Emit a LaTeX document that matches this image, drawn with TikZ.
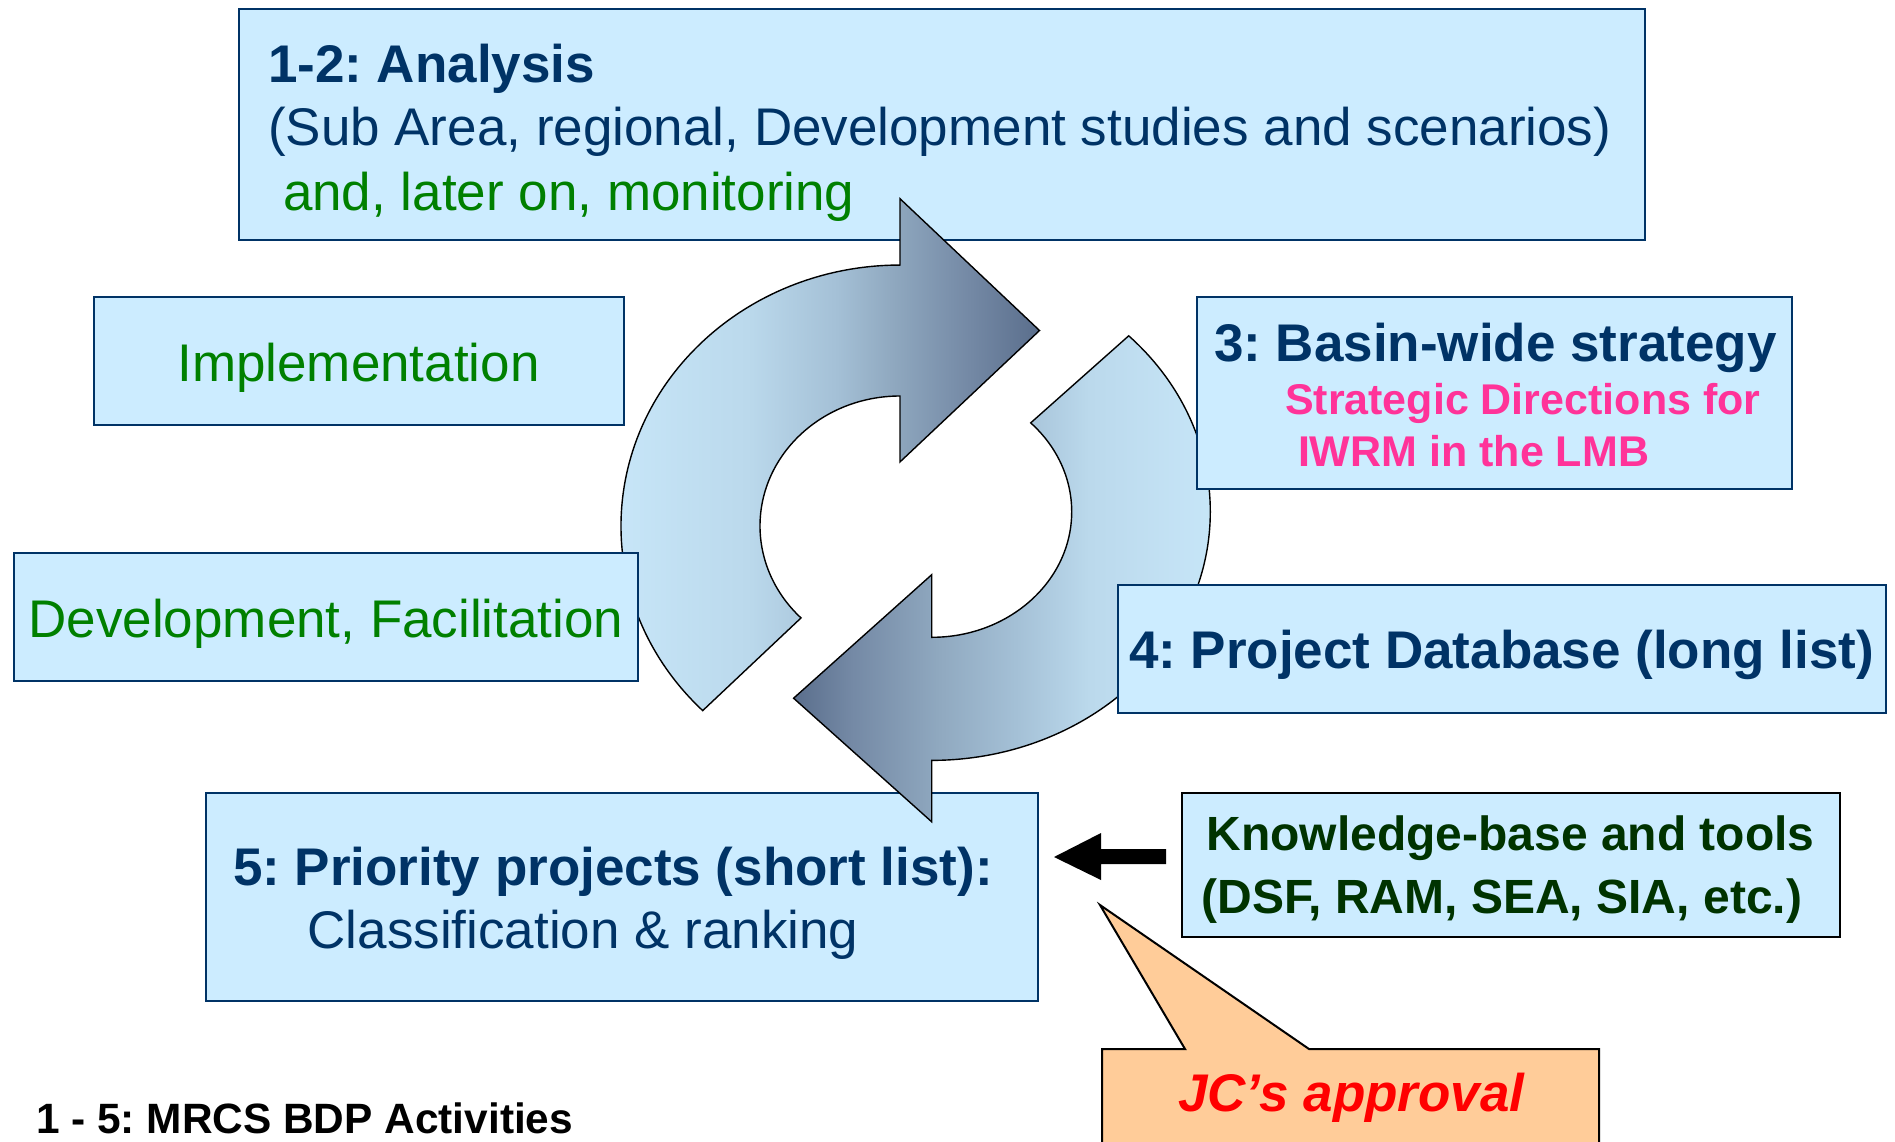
\documentclass[tikz,border=0pt]{standalone}
\usepackage{fontspec}
\setmainfont{Liberation Sans}
\frenchspacing
\definecolor{boxfill}{HTML}{CCECFF}
\definecolor{boxline}{HTML}{003366}
\definecolor{navy}{HTML}{003366}
\definecolor{grn}{HTML}{008000}
\definecolor{pink}{HTML}{FF3399}
\definecolor{dgrn}{HTML}{003300}
\definecolor{callfill}{HTML}{FFCC99}
\definecolor{ca}{HTML}{C9E8FA}
\definecolor{cb}{HTML}{BBD9EC}
\definecolor{cc}{HTML}{A4C0D6}
\definecolor{cd}{HTML}{90A9C0}
\definecolor{ce}{HTML}{7489A5}
\definecolor{cf}{HTML}{5A6E8C}
\pgfdeclarehorizontalshading{upshade}{100bp}{color(0bp)=(ca); color(25bp)=(ca); color(42.3bp)=(cb); color(52.3bp)=(cc); color(58.3bp)=(cd); color(67.1bp)=(ce); color(75bp)=(cf); color(100bp)=(cf)}
\pgfdeclarehorizontalshading{lowshade}{100bp}{color(0bp)=(cf); color(25bp)=(cf); color(31.5bp)=(ce); color(41.5bp)=(cd); color(50bp)=(cc); color(58.3bp)=(cb); color(75bp)=(ca); color(100bp)=(ca)}
\begin{document}
\begin{tikzpicture}[x=1pt,y=-1pt,
  box/.style={draw=boxline, fill=boxfill, line width=2pt, inner sep=0pt, outer sep=0pt},
  txt/.style={inner sep=0pt, outer sep=0pt, anchor=base west},
  ctxt/.style={inner sep=0pt, outer sep=0pt, anchor=base},
  big/.style={font=\fontsize{53}{63}\selectfont},
  bigb/.style={font=\bfseries\fontsize{53}{63}\selectfont},
  arrowshape/.style={draw=black, line width=1.4pt}]
\useasboundingbox (0,0) rectangle (1895,1141);
\fill[white] (0,0) rectangle (1895,1141);

% boxes behind the cycle arrows
\node[box, minimum width=1406pt, minimum height=231pt] (analysis) at (942,124.5) {};
\node[box, minimum width=832.5pt, minimum height=208pt] (prio) at (621.75,897) {};

% cycle arrows
\path[shading=upshade, arrowshape] (1039.5,330.5) -- (900,461.9) -- (900,396)
  arc[start angle=270, end angle=135, x radius=140, y radius=130]
  -- (702.7,710.6)
  arc[start angle=135, end angle=270, x radius=279, y radius=261]
  -- (900,198.7) -- cycle;
\path[shading=lowshade, arrowshape] (793.6,698.2) -- (931.7,574.7) -- (931.7,637.3)
  arc[start angle=90, end angle=-45, x radius=140, y radius=125.6]
  -- (1128.7,335.8)
  arc[start angle=-45, end angle=90, x radius=278.6, y radius=248.7]
  -- (931.7,821.8) -- cycle;

% boxes in front of the cycle arrows
\node[box, minimum width=530pt, minimum height=128pt] (impl) at (358.5,361) {};
\node[box, minimum width=624.5pt, minimum height=128pt] (devel) at (326,617) {};
\node[box, minimum width=595pt, minimum height=192pt] (basin) at (1494.5,393) {};
\node[box, minimum width=767.5pt, minimum height=128pt] (projdb) at (1501.75,649) {};
\node[box, draw=black, minimum width=658pt, minimum height=144pt] (know) at (1511,865) {};

% callout
\path[fill=callfill, draw=black, line width=2pt] (1102,1160) -- (1102,1049) -- (1185,1049) -- (1100,905) -- (1309,1049) -- (1599,1049) -- (1599,1160);
% block arrow
\fill[black] (1054,857) -- (1101,833) -- (1101,849) -- (1166,849) -- (1166,864) -- (1101,864) -- (1101,880) -- cycle;

% texts
\node[txt, bigb, text=navy] (t12) at (268,82) {1-2: Analysis};
\node[txt, big, text=navy] (tsub) at (268,145) {(Sub Area, regional, Development studies and scenarios)};
\node[txt, big, text=grn] (tmon) at (283,210) {and, later on, monitoring};
\node[ctxt, big, text=grn] (timpl) at (358.5,381) {Implementation};
\node[ctxt, big, text=grn] (tdev) at (326,637) {Development, Facilitation};
\node[txt, bigb, text=navy] (tbasin) at (1214,361) {3: Basin-wide strategy};
\node[txt, font=\bfseries\fontsize{43}{50}\selectfont, text=pink] (tsd) at (1285,414) {Strategic Directions for};
\node[txt, font=\bfseries\fontsize{43}{50}\selectfont, text=pink] (tiwrm) at (1298,466) {IWRM in the LMB};
\node[txt, bigb, text=navy] (tproj) at (1129,668) {4: Project Database (long list)};
\node[txt, bigb, text=navy] (tprio) at (233,885) {5: Priority projects (short list):};
\node[txt, big, text=navy] (tclass) at (307.6,948) {Classification \& ranking};
\node[ctxt, font=\bfseries\fontsize{48}{56}\selectfont, text=dgrn] (tknow) at (1510.5,850) {Knowledge-base and tools};
\node[ctxt, font=\bfseries\fontsize{48}{56}\selectfont, text=dgrn] (ttools) at (1502,913) {(DSF, RAM, SEA, SIA, etc.)};
\node[txt, font=\bfseries\itshape\fontsize{53}{63}\selectfont, text=red] (tjc) at (1178,1111) {JC’s approval};
\node[txt, font=\bfseries\fontsize{42.4}{50}\selectfont, text=black] (tact) at (36,1133) {1 - 5: MRCS BDP Activities};
\end{tikzpicture}
\end{document}
